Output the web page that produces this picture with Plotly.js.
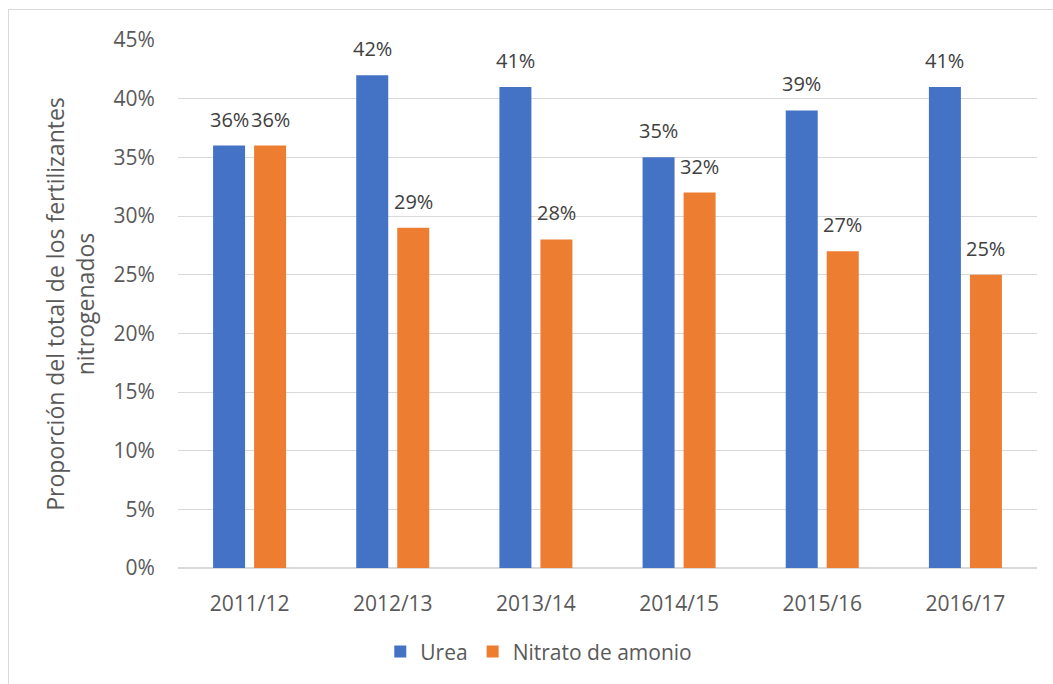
<!DOCTYPE html>
<html>
<head>
<meta charset="utf-8">
<script src="https://cdn.plot.ly/plotly-3.0.1.min.js"></script>
<style>
  html, body { margin: 0; padding: 0; background: #fff; }
  #wrap { position: relative; width: 1053px; height: 684px; }
  #chart { width: 1053px; height: 684px; }
  #frame { position: absolute; left: 8px; top: 9px; width: 1100px; height: 700px;
           border-left: 1px solid #d9d9d9; border-top: 1px solid #d9d9d9; pointer-events: none; }
</style>
</head>
<body>
<div id="wrap">
  <div id="chart"></div>
  <div id="frame"></div>
</div>
<script>
const categories = ["2011/12", "2012/13", "2013/14", "2014/15", "2015/16", "2016/17"];
const urea = [0.36, 0.42, 0.41, 0.35, 0.39, 0.41];
const nitrato = [0.36, 0.29, 0.28, 0.32, 0.27, 0.25];
const seriesNames = ["Urea", "Nitrato de amonio"];
const colors = ["#4472C4", "#ED7D31"];
const yTitle = "Proporción del total de los fertilizantes<br>nitrogenados";

const FONT = '"Open Sans", "Liberation Sans", sans-serif';
const pct = v => Math.round(v * 100) + "%";

const mk = (name, vals, color) => ({
  type: "bar",
  name: name,
  x: categories,
  y: vals,
  marker: { color: color },
  hoverinfo: "skip"
});

const data = [mk(seriesNames[0], urea, colors[0]), mk(seriesNames[1], nitrato, colors[1])];

// data labels above each bar (shifted half a bar slot left/right within the group)
const annotations = [];
[urea, nitrato].forEach((vals, s) => {
  vals.forEach((v, i) => {
    annotations.push({
      x: categories[i], y: v, xref: "x", yref: "y",
      text: pct(v), showarrow: false,
      xanchor: "center", yanchor: "bottom",
      xshift: s === 0 ? -20.5 : 20.5, yshift: 11,
      font: { family: FONT, size: 20, color: "#404040" }
    });
  });
});

const layout = {
  width: 1053, height: 684,
  margin: { l: 178, r: 16, t: 40, b: 116 },
  paper_bgcolor: "#ffffff",
  plot_bgcolor: "#ffffff",
  font: { family: FONT, size: 21, color: "#595959" },
  barmode: "group",
  bargap: 0.427,
  bargroupgap: 0.22,
  showlegend: true,
  legend: {
    orientation: "h",
    x: 0.42, xanchor: "center",
    y: -0.159, yanchor: "middle",
    font: { family: FONT, size: 21, color: "#595959" },
    itemwidth: 30
  },
  annotations: annotations,
  xaxis: {
    type: "category",
    showgrid: false,
    showline: false,
    zeroline: false,
    ticks: "outside",
    ticklen: 17,
    tickcolor: "rgba(0,0,0,0)",
    tickfont: { family: FONT, size: 21, color: "#595959" }
  },
  yaxis: {
    range: [0, 0.45],
    dtick: 0.05,
    tick0: 0,
    tickformat: ".0%",
    showgrid: true,
    gridcolor: "#d9d9d9",
    gridwidth: 1,
    zeroline: true,
    zerolinecolor: "#d9d9d9",
    zerolinewidth: 1.5,
    showline: false,
    ticks: "outside",
    ticklen: 18,
    tickcolor: "rgba(0,0,0,0)",
    tickfont: { family: FONT, size: 21, color: "#595959" },
    title: { text: yTitle, font: { family: FONT, size: 23, color: "#595959" }, standoff: 12 }
  }
};

Plotly.newPlot("chart", data, layout, { displayModeBar: false, staticPlot: true });
</script>
</body>
</html>
